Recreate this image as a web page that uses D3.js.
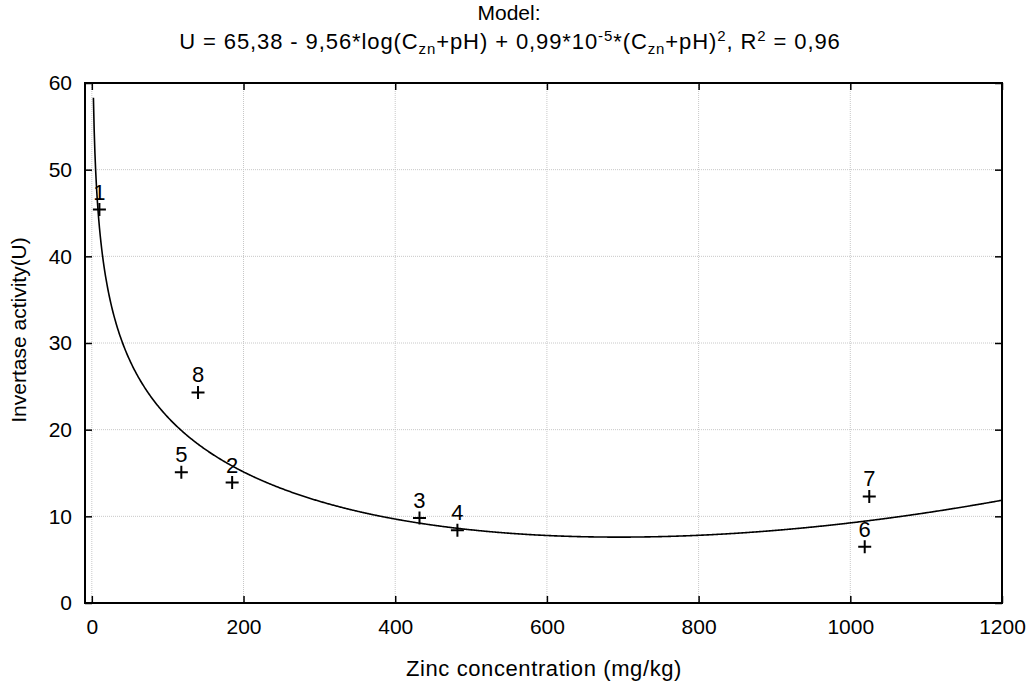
<!DOCTYPE html>
<html>
<head>
<meta charset="utf-8">
<script src="https://cdn.jsdelivr.net/npm/d3@7"></script>
<style>
  body { margin: 0; background: #fff; }
  text { font-family: "Liberation Sans", Arial, sans-serif; fill: #000; }
</style>
</head>
<body>
<div id="chart"></div>
<script>
// observed points (number, zinc mg/kg, invertase U)
var pointIds = ['1', '2', '3', '4', '5', '6', '7', '8'];
var zinc = [10, 185, 432, 482, 118, 1019, 1025, 140];
var invertase = [45.4, 13.9, 9.8, 8.4, 15.1, 6.5, 12.3, 24.3];
var xTicks = [0, 200, 400, 600, 800, 1000, 1200];
var yTicks = [0, 10, 20, 30, 40, 50, 60];
// model from title: U = a - b*log(C) + c*C^2
var modelCoef = [65.38, 9.56, 0.99e-5];
var modelRange = [2.1, 1200];

var W = 1032, H = 684;
var pLeft = 85, pRight = 1002, pTop = 83, pBottom = 603;
var fontFam = '"Liberation Sans", Arial, sans-serif';

var svg = d3.select('#chart').append('svg').attr('width', W).attr('height', H);

var x = d3.scaleLinear().domain([-9, 1200]).range([pLeft, pRight]);
var y = d3.scaleLinear().domain([0, 60]).range([pBottom, pTop]);

// grid
svg.append('g').selectAll('line').data(xTicks.slice(0, -1)).enter().append('line')
  .attr('x1', d => x(d)).attr('x2', d => x(d)).attr('y1', pTop).attr('y2', pBottom)
  .attr('stroke', '#c8c8c8').attr('stroke-dasharray', '1,1');
svg.append('g').selectAll('line').data(yTicks.slice(1, -1)).enter().append('line')
  .attr('x1', pLeft).attr('x2', pRight).attr('y1', d => y(d)).attr('y2', d => y(d))
  .attr('stroke', '#c8c8c8').attr('stroke-dasharray', '1,1');

// axes, ticks inward on all sides
var tickLen = 7;
svg.append('g').attr('transform', `translate(0,${pBottom})`)
  .call(d3.axisBottom(x).tickValues(xTicks).tickSize(-tickLen).tickPadding(16).tickFormat(d3.format('d')))
  .call(g => g.select('.domain').remove())
  .call(g => g.selectAll('text').attr('font-size', 21).attr('font-family', fontFam));
svg.append('g').attr('transform', `translate(0,${pTop})`)
  .call(d3.axisTop(x).tickValues(xTicks).tickSize(-tickLen).tickFormat(''))
  .call(g => g.select('.domain').remove());
svg.append('g').attr('transform', `translate(${pLeft},0)`)
  .call(d3.axisLeft(y).tickValues(yTicks).tickSize(-tickLen).tickPadding(13))
  .call(g => g.select('.domain').remove())
  .call(g => g.selectAll('text').attr('font-size', 21).attr('font-family', fontFam));
svg.append('g').attr('transform', `translate(${pRight},0)`)
  .call(d3.axisRight(y).tickValues(yTicks).tickSize(-tickLen).tickFormat(''))
  .call(g => g.select('.domain').remove());
svg.selectAll('.tick line').attr('stroke', '#000').attr('stroke-width', 1.5);

// frame
svg.append('rect').attr('x', pLeft).attr('y', pTop).attr('width', pRight - pLeft).attr('height', pBottom - pTop)
  .attr('fill', 'none').attr('stroke', '#000').attr('stroke-width', 2);

// model curve
var curvePts = d3.range(modelRange[0], modelRange[1] + 0.5, 1).map(c =>
  [c, modelCoef[0] - modelCoef[1] * Math.log(c) + modelCoef[2] * c * c]);
svg.append('path').datum(curvePts)
  .attr('d', d3.line().x(d => x(d[0])).y(d => y(d[1])))
  .attr('fill', 'none').attr('stroke', '#000').attr('stroke-width', 1.6);

// points
var pts = pointIds.map((id, i) => ({ id: id, c: zinc[i], u: invertase[i] }));
var g = svg.append('g').selectAll('g').data(pts).enter().append('g')
  .attr('transform', d => `translate(${x(d.c)},${y(d.u)})`);
g.append('path').attr('d', 'M-6.5,0H6.5M0,-6.5V6.5').attr('stroke', '#000').attr('stroke-width', 2);
g.append('text').attr('y', -10).attr('text-anchor', 'middle').attr('font-size', 22).text(d => d.id);

// axis titles
svg.append('text').attr('x', 544).attr('y', 676).attr('text-anchor', 'middle').attr('font-size', 22)
  .attr('letter-spacing', 0.6).text('Zinc concentration (mg/kg)');
svg.append('text').attr('transform', 'translate(26,330) rotate(-90)').attr('text-anchor', 'middle')
  .attr('font-size', 21).text('Invertase activity(U)');

// title
svg.append('text').attr('x', 509).attr('y', 20).attr('text-anchor', 'middle').attr('font-size', 21).text('Model:');
var t = svg.append('text').attr('x', 510).attr('y', 49).attr('text-anchor', 'middle').attr('font-size', 22)
  .attr('letter-spacing', 0.9);
var parts = [
  ['U = 65,38 - 9,56*log(C', 0], ['zn', -1], ['+pH) + 0,99*10', 0], ['-5', 1], ['*(C', 0], ['zn', -1],
  ['+pH)', 0], ['2', 1], [', R', 0], ['2', 1], [' = 0,96', 0]
];
var cur = 0;
parts.forEach(p => {
  var dy = p[1] === 1 ? -8 : p[1] === -1 ? 5 : 0;
  t.append('tspan').attr('dy', dy - cur).attr('font-size', p[1] ? 15 : 22).text(p[0]);
  cur = dy;
});
</script>
</body>
</html>
